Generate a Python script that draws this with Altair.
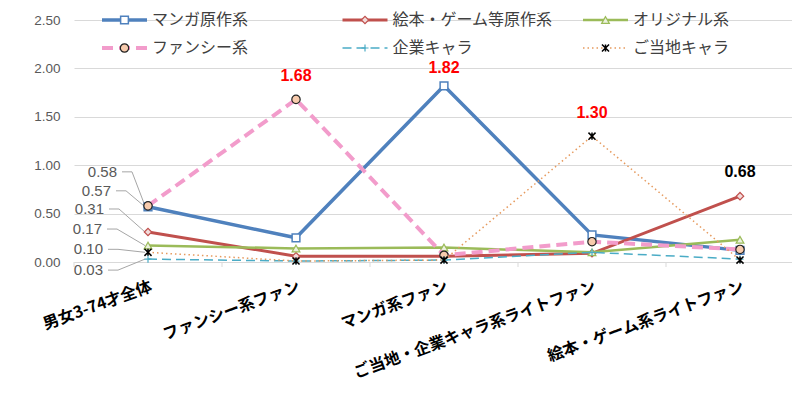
import altair as alt
import pandas as pd

# ---------------- data ----------------
categories = ["男女3-74才全体", "ファンシー系ファン", "マンガ系ファン",
              "ご当地・企業キャラ系ライトファン", "絵本・ゲーム系ライトファン"]
series_names = ["マンガ原作系", "絵本・ゲーム等原作系", "オリジナル系",
                "ファンシー系", "企業キャラ", "ご当地キャラ"]
manga = [0.57, 0.25, 1.82, 0.28, 0.12]
ehon = [0.31, 0.06, 0.06, 0.09, 0.68]
original = [0.17, 0.14, 0.15, 0.10, 0.23]
fancy = [0.58, 1.68, 0.07, 0.21, 0.13]
kigyo = [0.03, 0.01, 0.02, 0.10, 0.03]
gotouchi = [0.10, 0.01, 0.02, 1.30, 0.02]
y_ticks = [0.0, 0.5, 1.0, 1.5, 2.0, 2.5]

# highlighted values: (series, category index, colour, label offset px)
highlights = [("ファンシー系", 1, "#FF0000", -23), ("マンガ原作系", 2, "#FF0000", -18),
              ("ご当地キャラ", 3, "#FF0000", -23), ("絵本・ゲーム等原作系", 4, "#000000", -24)]
# callout labels at first category: series order top->bottom
callout_series = ["ファンシー系", "マンガ原作系", "絵本・ゲーム等原作系",
                  "オリジナル系", "ご当地キャラ", "企業キャラ"]

all_values = [manga, ehon, original, fancy, kigyo, gotouchi]

# ---------------- styles ----------------
styles = {
    "マンガ原作系": dict(color="#4F81BD", width=3.5, dash=None, shape="square",
                    fill="#FFFFFF", mstroke="#4F81BD", size=60, msw=1.5),
    "絵本・ゲーム等原作系": dict(color="#C0504D", width=3, dash=None, shape="diamond",
                        fill="#F2DCDB", mstroke="#C0504D", size=55, msw=1.2),
    "オリジナル系": dict(color="#9BBB59", width=2.5, dash=None, shape="triangle-up",
                    fill="#EBF1DE", mstroke="#9BBB59", size=60, msw=1.2),
    "ファンシー系": dict(color="#F29CCB", width=4, dash=[11, 6], shape="circle",
                    fill="#F8CBAD", mstroke="#222222", size=70, msw=1.2),
    "企業キャラ": dict(color="#4BACC6", width=1.5, dash=[9, 5], shape="M-1,0L1,0M0,-1L0,1",
                  fill=None, mstroke="#4BACC6", size=50, msw=1.2),
    "ご当地キャラ": dict(color="#E69A5E", width=1.5, dash=[1.5, 3],
                   shape="M-1,-1L1,1M-1,1L1,-1M0,-1L0,1",
                   fill=None, mstroke="#000000", size=50, msw=1.5),
}

W, H = 718, 242
PX_PER_CAT = 148.0
X_DOMAIN = [-0.5, -0.5 + W / PX_PER_CAT]
PX_PER_UNIT = H / 2.5

rows = []
for name, vals in zip(series_names, all_values):
    for i, v in enumerate(vals):
        rows.append({"series": name, "idx": i, "value": v, "label": f"{v:.2f}"})
df = pd.DataFrame(rows)

label_expr = " : ".join(
    [f"datum.value == {i} ? '{c}'" for i, c in enumerate(categories)]) + " : ''"

x_axis = alt.Axis(values=list(range(len(categories))), labelExpr=label_expr,
                  title=None, grid=False, ticks=False, domain=True,
                  domainColor="#D9D9D9", domainWidth=1,
                  labelAngle=-20, labelAlign="right", labelBaseline="top",
                  labelPadding=16, labelFontSize=16, labelFont="Noto Sans CJK JP",
                  labelFontWeight="bold", labelColor="#000000", labelOverlap=False,
                  labelLimit=400, labelFlush=False)
y_axis = alt.Axis(values=y_ticks, format=".2f", title=None, grid=True,
                  gridColor="#D9D9D9", gridWidth=1, ticks=False, domain=False,
                  labelFontSize=13.5, labelFont="Liberation Sans", labelColor="#595959",
                  labelPadding=14)

xs = alt.Scale(domain=X_DOMAIN, nice=False, zero=False)
ys = alt.Scale(domain=[0, 2.5], nice=False, zero=False)


def X(field="idx"):
    return alt.X(f"{field}:Q", scale=xs, axis=x_axis)


def Y(field="value"):
    return alt.Y(f"{field}:Q", scale=ys, axis=y_axis)


layers = []

# tick marks below axis at category boundaries
tick_df = pd.DataFrame({"idx": [b - 0.5 for b in range(len(categories))]})
layers.append(alt.Chart(tick_df).mark_rule(color="#D9D9D9", strokeWidth=1).encode(
    x=X(), y=alt.value(H), y2=alt.value(H + 5)))

# leader lines for the callout labels at the first category
callout_px = {  # label right-edge dx, label dy from point (pixels)
    "ファンシー系": (-31, -34), "マンガ原作系": (-37, -16),
    "絵本・ゲーム等原作系": (-44, -23), "オリジナル系": (-46, -16.5),
    "ご当地キャラ": (-45, -3), "企業キャラ": (-45, 11)}
lead_rows, lab_rows = [], []
for k, s in enumerate(callout_series):
    v = all_values[series_names.index(s)][0]
    dx, dy = callout_px[s]
    x0 = (dx + 5) / PX_PER_CAT
    x1 = (dx + 15) / PX_PER_CAT
    yl = v - dy / PX_PER_UNIT
    lead_rows += [
        {"g": k, "o": 0, "idx": x0, "value": yl},
        {"g": k, "o": 1, "idx": x1, "value": yl},
        {"g": k, "o": 2, "idx": -3 / PX_PER_CAT, "value": v},
    ]
    lab_rows.append({"idx": 0, "value": v, "label": f"{v:.2f}", "dx": dx, "dy": dy})
lead_df = pd.DataFrame(lead_rows)
layers.append(alt.Chart(lead_df).mark_line(color="#A6A6A6", strokeWidth=1).encode(
    x=X(), y=Y(), detail="g:N", order="o:Q"))
for r in lab_rows:
    layers.append(alt.Chart(pd.DataFrame([r])).mark_text(
        align="right", baseline="middle", dx=r["dx"], dy=r["dy"], fontSize=15,
        font="Liberation Sans", color="#595959").encode(x=X(), y=Y(), text="label:N"))

# series lines and markers
for name in series_names:
    st = styles[name]
    base = alt.Chart(df).transform_filter(alt.datum.series == name)
    lkw = dict(color=st["color"], strokeWidth=st["width"], strokeCap="butt")
    if st["dash"]:
        lkw["strokeDash"] = st["dash"]
    layers.append(base.mark_line(**lkw).encode(x=X(), y=Y()))
    pkw = dict(shape=st["shape"], size=st["size"], stroke=st["mstroke"],
               strokeWidth=st["msw"], opacity=1)
    if st["fill"]:
        pkw.update(filled=True, fill=st["fill"])
    else:
        pkw.update(filled=False)
    layers.append(base.mark_point(**pkw).encode(x=X(), y=Y()))

# highlighted value labels
for s, i, col, off in highlights:
    v = all_values[series_names.index(s)][i]
    hdf = pd.DataFrame([{"idx": i, "value": v, "label": f"{v:.2f}"}])
    layers.append(alt.Chart(hdf).mark_text(
        dy=off, fontSize=16, fontWeight="bold", font="Liberation Sans",
        color=col, baseline="middle").encode(x=X(), y=Y(), text="label:N"))

# legend (3 columns x 2 rows, drawn inside the plot area)
LEG_X0, LEG_COL_W, LEG_ROW_H, LEG_SYM_W = 28, 240.5, 28, 45
for k, name in enumerate(series_names):
    st = styles[name]
    col, row = k % 3, k // 3
    sx = LEG_X0 + col * LEG_COL_W
    sy = row * LEG_ROW_H
    ldf = pd.DataFrame([{"label": name}])
    rkw = dict(color=st["color"], strokeWidth=st["width"], strokeCap="butt")
    if st["dash"]:
        rkw["strokeDash"] = st["dash"]
    layers.append(alt.Chart(ldf).mark_rule(**rkw).encode(
        x=alt.value(sx), x2=alt.value(sx + LEG_SYM_W), y=alt.value(sy)))
    pkw = dict(shape=st["shape"], size=st["size"], stroke=st["mstroke"],
               strokeWidth=st["msw"], opacity=1)
    if st["fill"]:
        pkw.update(filled=True, fill=st["fill"])
    else:
        pkw.update(filled=False)
    layers.append(alt.Chart(ldf).mark_point(**pkw).encode(
        x=alt.value(sx + LEG_SYM_W / 2), y=alt.value(sy)))
    layers.append(alt.Chart(ldf).mark_text(
        align="left", baseline="middle", fontSize=16, font="Noto Sans CJK JP",
        color="#404040").encode(
        x=alt.value(sx + LEG_SYM_W + 5), y=alt.value(sy), text="label:N"))

chart = alt.layer(*layers).properties(
    width=W, height=H,
    padding={"left": 66, "top": 12, "right": 0, "bottom": 118},
    autosize=alt.AutoSizeParams(type="none"),
    background="#FFFFFF",
).configure_view(stroke=None)

chart.save("out.html", embed_options={"renderer": "svg", "actions": False})
